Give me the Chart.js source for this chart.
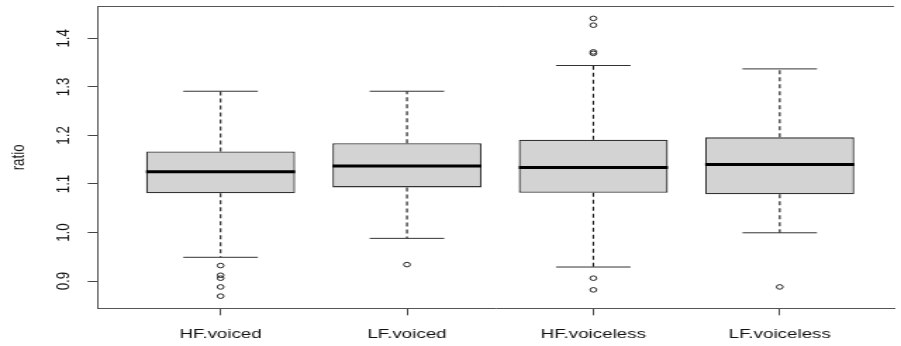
<!DOCTYPE html>
<html><head><meta charset="utf-8">
<script src="https://cdn.jsdelivr.net/npm/chart.js@4/dist/chart.umd.min.js"></script>
<style>
html,body{margin:0;padding:0;background:#fff;overflow:hidden;width:901px;height:346px;}
#wrap{width:640px;height:346px;transform:scale(1.4078125,1);transform-origin:0 0;}
canvas{display:block;}
</style></head><body>
<div id="wrap"><canvas id="c" width="640" height="346"></canvas></div>
<script>
// ---- data ----
const categories  = ['HF.voiced', 'LF.voiced', 'HF.voiceless', 'LF.voiceless'];
const whiskerLow  = [0.949, 0.988, 0.929, 0.9995];
const q1          = [1.081, 1.093, 1.082, 1.079];
const median      = [1.125, 1.137, 1.134, 1.140];
const q3          = [1.167, 1.184, 1.191, 1.196];
const whiskerHigh = [1.291, 1.291, 1.344, 1.337];
const outliersHFvoiced    = [0.932, 0.912, 0.906, 0.888, 0.869];
const outliersLFvoiced    = [0.934];
const outliersHFvoiceless = [1.441, 1.427, 1.372, 1.369, 0.906, 0.882];
const outliersLFvoiceless = [0.888];
const outliers = [outliersHFvoiced, outliersLFvoiced, outliersHFvoiceless, outliersLFvoiceless];
const yTicks = [0.9, 1.0, 1.1, 1.2, 1.3, 1.4];
const yLabel = 'ratio';

// ---- build library datasets from the arrays ----
const pos = categories.map((_, i) => i + 1);
const boxData = pos.map((x, i) => ({x, y: [q1[i], q3[i]]}));
const medianData = pos.flatMap((x, i) => [{x: x - 0.4, y: median[i]}, {x: x + 0.4, y: median[i]}, {x, y: null}]);
const whiskerData = pos.flatMap((x, i) => [
  {x, y: q3[i]}, {x, y: whiskerHigh[i]}, {x, y: null},
  {x, y: q1[i]}, {x, y: whiskerLow[i]}, {x, y: null}]);
const capData = pos.flatMap((x, i) => [
  {x: x - 0.2, y: whiskerHigh[i]}, {x: x + 0.2, y: whiskerHigh[i]}, {x, y: null},
  {x: x - 0.2, y: whiskerLow[i]}, {x: x + 0.2, y: whiskerLow[i]}, {x, y: null}]);
const outlierData = pos.flatMap((x, i) => outliers[i].map(y => ({x, y})));

const FONT = {family: "'Liberation Sans', Arial, sans-serif", size: 13.33};
const TXT = '#111';

const frame = {
  id: 'frame',
  afterDraw(chart) {
    const {ctx, chartArea: a} = chart;
    ctx.save();
    ctx.strokeStyle = '#555';
    ctx.lineWidth = 1;
    ctx.beginPath();
    ctx.moveTo(a.left, a.top);
    ctx.lineTo(a.right, a.top);
    ctx.stroke();
    ctx.restore();
  }
};

new Chart(document.getElementById('c'), {
  type: 'bar',
  data: {
    datasets: [
      {type: 'bar', data: boxData, backgroundColor: '#d3d3d3', borderColor: '#333',
       borderWidth: 1.3, borderSkipped: false, barPercentage: 1, categoryPercentage: 0.8, order: 5},
      {type: 'line', data: whiskerData, borderColor: '#111', borderWidth: 1.1, borderDash: [4, 3],
       pointRadius: 0, spanGaps: false, order: 4},
      {type: 'line', data: capData, borderColor: '#333', borderWidth: 1, pointRadius: 0, spanGaps: false, order: 3},
      {type: 'line', data: medianData, borderColor: '#000', borderWidth: 3, pointRadius: 0,
       spanGaps: false, borderCapStyle: 'butt', order: 1},
      {type: 'scatter', data: outlierData, pointStyle: 'circle', pointRadius: 2.3,
       pointBorderWidth: 1, borderColor: '#222', backgroundColor: 'rgba(0,0,0,0)',
       pointBackgroundColor: 'rgba(0,0,0,0)', pointBorderColor: '#222', showLine: false, order: 0}
    ]
  },
  options: {
    responsive: false,
    devicePixelRatio: 1,
    animation: false,
    events: [],
    layout: {padding: {left: 0, right: 0, top: 6.5, bottom: 0}},
    plugins: {legend: {display: false}, tooltip: {enabled: false}},
    scales: {
      x: {
        type: 'linear', min: 0.34, max: 4.613, offset: false,
        afterBuildTicks: s => { s.ticks = pos.map(v => ({value: v})); },
        afterFit: s => { s.height = 37.7; s.paddingLeft = 0; s.paddingRight = 0; },
        grid: {display: true, offset: false, drawOnChartArea: false, drawTicks: true, tickLength: 7, tickColor: '#444'},
        border: {display: true, color: '#555', width: 1},
        ticks: {autoSkip: false, maxRotation: 0, minRotation: 0, padding: 11, color: TXT, font: FONT,
                callback: v => categories[Math.round(v) - 1] ?? ''}
      },
      y: {
        type: 'linear', min: 0.844, max: 1.4655,
        afterBuildTicks: s => { s.ticks = yTicks.map(v => ({value: v})); },
        afterFit: s => { s.width = 69.3; s.paddingTop = 0; s.paddingBottom = 0; },
        grid: {display: true, drawOnChartArea: false, drawTicks: true, tickLength: 7, tickColor: '#444'},
        border: {display: true, color: '#555', width: 1},
        ticks: {minRotation: 90, maxRotation: 90, crossAlign: 'center', padding: 7.9, color: TXT, font: FONT,
                callback: v => v.toFixed(1)},
        title: {display: true, text: yLabel, color: TXT, font: FONT, padding: {top: 4.9, bottom: 0}}
      }
    }
  },
  plugins: [frame]
});
</script>
</body></html>
